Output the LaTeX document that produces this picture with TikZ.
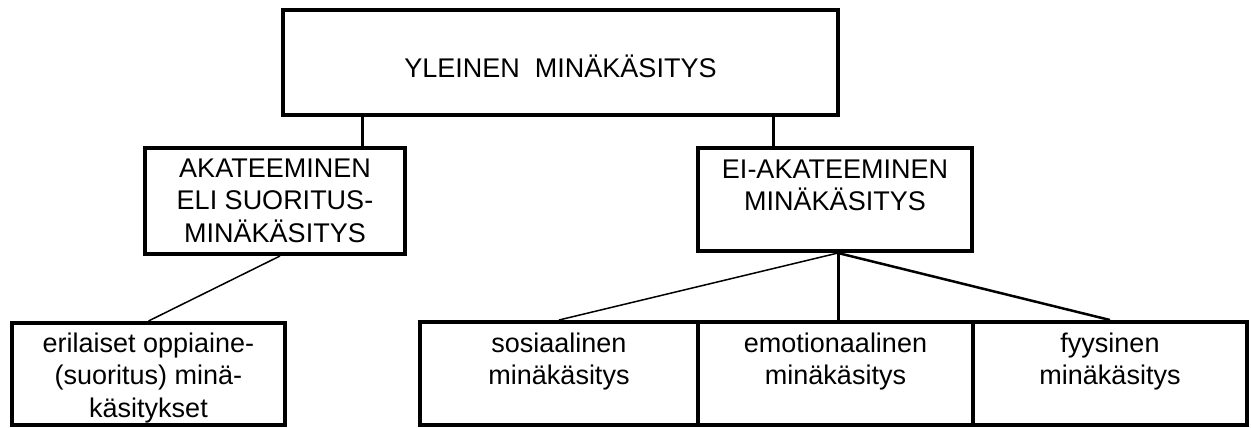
\documentclass[tikz,border=0pt]{standalone}
\usepackage{fontspec}
\setmainfont{Liberation Sans}
\newcommand{\bxt}[4]{\parbox[c][#2pt][t]{#1pt}{\centering\rule{0pt}{#3pt}#4\par}}
\begin{document}
\begin{tikzpicture}[x=1pt,y=-1pt,
  box/.style={draw, line width=4pt, inner sep=0pt, font=\fontsize{27}{32.5}\selectfont},
  thick conn/.style={line width=3pt},
  thin conn/.style={line width=1.5pt},
  mid conn/.style={line width=2.5pt}]
\useasboundingbox (0,0) rectangle (1251,428);
% boxes
\node[box] (top) at (560.5,62.5) {\bxt{555}{105}{67.5}{YLEINEN\ \ MINÄKÄSITYS}};
\node[box] (aka) at (275,201) {\bxt{260}{106}{29}{AKATEEMINEN\\ELI SUORITUS-\\MINÄKÄSITYS}};
\node[box] (ei) at (835,199.5) {\bxt{274}{103}{30}{EI-AKATEEMINEN\\MINÄKÄSITYS}};
\node[box] (eri) at (148.5,374) {\bxt{273}{102}{29}{erilaiset oppiaine-\\(suoritus) minä-\\käsitykset}};
\node[box] (sos) at (559,373.5) {\bxt{278}{103}{30}{sosiaalinen\\minäkäsitys}};
\node[box] (emo) at (835.5,373.5) {\bxt{275}{103}{30}{emotionaalinen\\minäkäsitys}};
\node[box] (fyy) at (1110,373.5) {\bxt{274}{103}{30}{fyysinen\\minäkäsitys}};
% connector positions
\coordinate (cl) at (362,0);
\coordinate (cr) at (773,0);
\coordinate (ca) at (280,0);
\coordinate (ce) at (838,0);
% connectors
\draw[thick conn] (top.south -| cl) -- (aka.north -| cl);
\draw[thick conn] (top.south -| cr) -- (ei.north -| cr);
\draw[thin conn] (aka.south -| ca) -- (eri.north);
\draw[thin conn] (ei.south -| ce) -- (sos.north);
\draw[thick conn] (ei.south -| ce) -- (emo.north -| ce);
\draw[mid conn] (ei.south -| ce) -- (fyy.north);
\end{tikzpicture}
\end{document}
